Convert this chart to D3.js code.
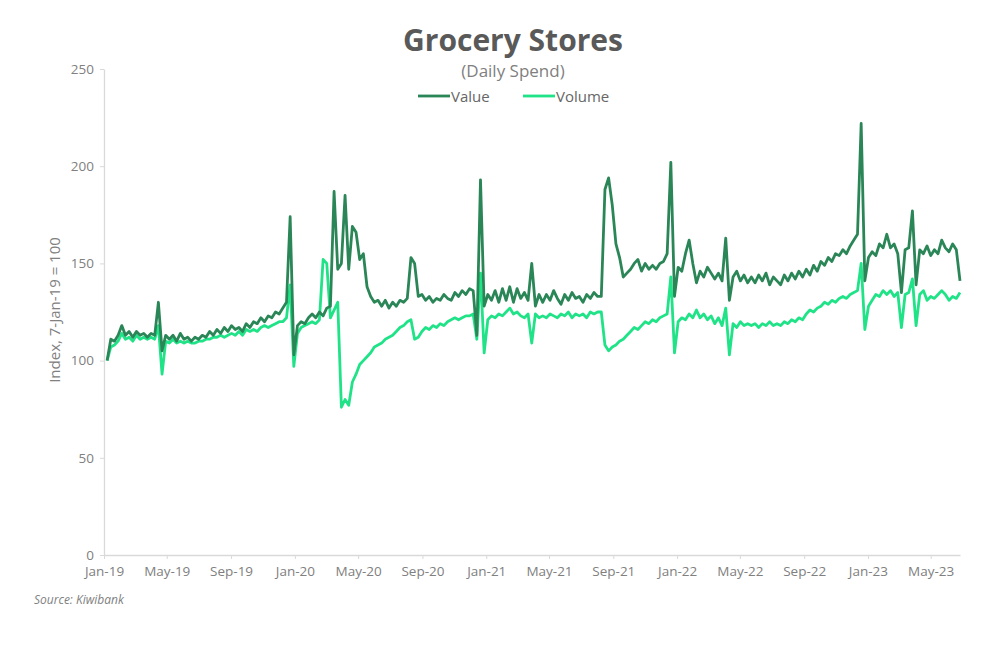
<!DOCTYPE html>
<html>
<head>
<meta charset="utf-8">
<script src="https://cdn.jsdelivr.net/npm/d3@7"></script>
<style>
  html, body { margin: 0; padding: 0; background: #fff; }
  svg { display: block; }
  text { font-family: "Open Sans", "DejaVu Sans", sans-serif; }
</style>
</head>
<body>
<svg id="chart" width="1000" height="664"></svg>
<script>
// ---- Data (weekly points starting 7-Jan-19) ----
const startDate = "2019-01-07";
const seriesNames = ["Value", "Volume"];
const valueSeries = [
  100,111,110,113,118,113,115,112,115,113,
  114,112,114,113,130,105,113,111,113,110,
  114,111,112,110,112,111,113,112,115,113,
  116,114,117,115,118,116,117,115,119,117,
  120,119,122,120,123,122,125,124,127,130,
  174,103,118,120,119,122,124,122,125,123,
  127,128,187,147,150,185,147,169,166,152,
  155,138,133,130,131,128,131,127,130,128,
  131,130,132,153,150,133,134,131,133,130,
  132,131,134,132,131,135,133,136,134,137,
  136,113,193,128,134,131,136,130,137,131,
  138,130,137,132,135,131,150,128,134,130,
  134,131,136,132,129,134,131,135,132,133,
  130,134,132,135,133,133,188,194,180,160,
  153,143,145,147,150,152,146,150,147,149,
  147,150,151,155,202,133,148,146,155,162,
  150,140,146,143,148,145,142,145,141,163,
  131,143,146,141,144,140,143,140,144,141,
  145,139,143,141,139,144,141,145,142,146,
  143,147,144,149,146,151,149,153,151,155,
  154,157,155,159,162,165,222,141,153,156,
  154,160,158,165,158,160,155,135,157,158,
  177,139,157,155,159,154,157,155,162,158,
  156,160,157,141
];
const volumeSeries = [
  100,107,108,110,114,111,112,110,113,111,
  112,111,112,111,118,93,110,109,111,109,
  110,109,110,109,109,110,110,111,111,112,
  112,113,112,113,114,113,115,113,116,115,
  116,115,117,118,117,118,119,120,120,122,
  139,97,114,117,118,119,120,119,121,152,
  150,122,126,130,76,80,77,89,93,98,
  100,102,104,107,108,109,111,112,113,115,
  117,118,120,121,111,112,115,117,116,118,
  117,119,118,120,121,122,121,122,123,123,
  124,111,145,104,121,123,122,124,123,125,
  127,124,125,123,122,124,109,124,122,123,
  122,124,123,122,124,123,125,122,124,123,
  124,122,125,124,125,125,108,105,107,108,
  110,111,113,115,117,116,118,120,119,121,
  120,122,123,124,143,104,120,122,121,124,
  122,126,122,124,121,123,119,122,118,127,
  103,119,117,120,118,119,118,119,117,119,
  118,120,118,119,118,120,119,121,120,122,
  121,124,126,125,127,128,130,129,131,130,
  132,133,132,134,135,136,150,116,128,131,
  134,133,136,134,136,133,135,117,134,135,
  142,118,134,136,131,133,132,134,136,134,
  131,133,132,135
];
const yTicks = [0, 50, 100, 150, 200, 250];
const xTickLabels = ["Jan-19","May-19","Sep-19","Jan-20","May-20","Sep-20","Jan-21","May-21","Sep-21","Jan-22","May-22","Sep-22","Jan-23","May-23"];

// ---- Layout ----
const svg = d3.select("#chart");
const plotL = 104, plotR = 960, plotT = 69, plotB = 555;
const colors = { Value: "#2b8657", Volume: "#20e388" };

const parse = d3.timeParse("%Y-%m-%d");
const fmt = d3.timeFormat("%b-%y");
const t0 = parse(startDate);
const dates = valueSeries.map((_, i) => d3.timeDay.offset(t0, 7 * i));

const x = d3.scaleTime()
  .domain([parse("2019-01-01"), dates[dates.length - 1]])
  .range([plotL, plotR]);
const y = d3.scaleLinear().domain([0, 250]).range([plotB, plotT]);

const tickDates = xTickLabels.map(s => d3.timeParse("%b-%y")(s));

// Axes
const gx = svg.append("g").attr("transform", `translate(0,${plotB})`)
  .call(d3.axisBottom(x).tickValues(tickDates).tickFormat(fmt).tickSize(4).tickSizeOuter(0));
gx.select(".domain").attr("stroke", "#d9d9d9").attr("stroke-width", 1.3);
gx.selectAll(".tick line").attr("stroke", "#d9d9d9");
gx.selectAll(".tick text").attr("fill", "#808080").attr("font-size", 13.5)
  .attr("dy", "1.05em").style("font-family", '"Open Sans", sans-serif');

const gy = svg.append("g").attr("transform", `translate(${plotL},0)`)
  .call(d3.axisLeft(y).tickValues(yTicks).tickSize(4).tickSizeOuter(0).tickPadding(6));
gy.select(".domain").attr("stroke", "#d9d9d9").attr("stroke-width", 1.3);
gy.selectAll(".tick line").attr("stroke", "#d9d9d9");
gy.selectAll(".tick text").attr("fill", "#808080").attr("font-size", 13.5)
  .style("font-family", '"Open Sans", sans-serif');

// Lines
const line = d3.line().x((d, i) => x(dates[i])).y(d => y(d)).curve(d3.curveLinear);
svg.append("path").datum(volumeSeries).attr("d", line)
  .attr("fill", "none").attr("stroke", colors.Volume).attr("stroke-width", 2.8)
  .attr("stroke-linejoin", "round");
svg.append("path").datum(valueSeries).attr("d", line)
  .attr("fill", "none").attr("stroke", colors.Value).attr("stroke-width", 2.8)
  .attr("stroke-linejoin", "round");

// Title
svg.append("text").attr("x", 513).attr("y", 51).attr("text-anchor", "middle")
  .attr("font-size", 30).attr("font-weight", 700).attr("fill", "#595959")
  .text("Grocery Stores");
svg.append("text").attr("x", 513).attr("y", 77).attr("text-anchor", "middle")
  .attr("font-size", 17).attr("fill", "#7f7f7f").text("(Daily Spend)");

// Legend
const legend = [{ name: seriesNames[0], x: 418 }, { name: seriesNames[1], x: 523 }];
legend.forEach(l => {
  svg.append("line").attr("x1", l.x).attr("x2", l.x + 32).attr("y1", 96).attr("y2", 96)
    .attr("stroke", colors[l.name]).attr("stroke-width", 2.8);
  svg.append("text").attr("x", l.x + 33).attr("y", 101.5).attr("font-size", 15)
    .attr("fill", "#666666").text(l.name);
});

// Y axis title
svg.append("text").attr("transform", "translate(60,310) rotate(-90)")
  .attr("text-anchor", "middle").attr("font-size", 15).attr("fill", "#808080")
  .text("Index, 7-Jan-19 = 100");

// Source
svg.append("text").attr("x", 34).attr("y", 604).attr("font-size", 12)
  .attr("font-style", "italic").attr("fill", "#7f7f7f").text("Source: Kiwibank");
</script>
</body>
</html>
